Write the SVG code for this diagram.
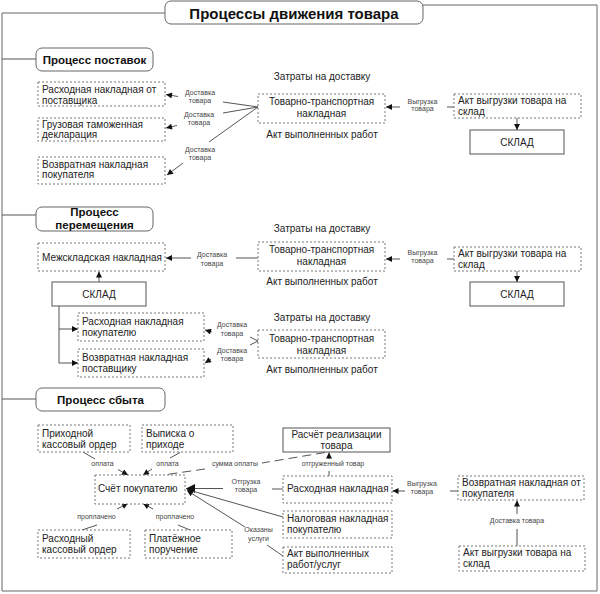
<svg xmlns="http://www.w3.org/2000/svg" width="600" height="594" viewBox="0 0 600 594">
<defs>
<marker id="ah" viewBox="0 0 10 10" refX="10" refY="5" markerWidth="8" markerHeight="6" markerUnits="userSpaceOnUse" orient="auto"><path d="M0,0 L10,5 L0,10 z" fill="#111"/></marker>
<marker id="ahb" viewBox="0 0 10 10" refX="10" refY="5" markerWidth="11" markerHeight="9" markerUnits="userSpaceOnUse" orient="auto"><path d="M0,0 L10,5 L0,10 z" fill="#111"/></marker>
<style>
text{font-family:"Liberation Sans",Arial,sans-serif;fill:#222}
.t{font-size:10px}
.tc{font-size:10px;text-anchor:middle}
.s{font-size:7px;text-anchor:middle;fill:#444}
.h{font-size:11.5px;font-weight:bold;text-anchor:middle;fill:#111}
.ttl{font-size:15px;font-weight:bold;text-anchor:middle;fill:#111}
.frame{fill:none;stroke:#666;stroke-width:1}
.rb{fill:#fff;stroke:#666;stroke-width:1}
.db{fill:#fff;stroke:#777;stroke-width:1;stroke-dasharray:2,2}
.sb{fill:#fff;stroke:#555;stroke-width:1}
.c{fill:none;stroke:#555;stroke-width:1}
.ca{fill:none;stroke:#555;stroke-width:1;marker-end:url(#ah)}
.cd{fill:none;stroke:#555;stroke-width:1;stroke-dasharray:9,5}
</style>
</defs>

<g id="frame">
<path class="frame" d="M2,591 V13 H165 M423,5 H597 V591 H2"/>
</g>

<g id="connectors">
<path class="c" d="M2,59 H36 M2,215 H36 M2,399 H36"/>
<!-- section 1 -->
<path class="c" d="M258,107 L223,102 M258,107 L223,113 M258,107 L209,142"/>
<path class="ca" d="M178,96.5 L166,94.5"/>
<path class="ca" d="M177,125.5 L166,128"/>
<path class="ca" d="M183,163 L167,175"/>
<path class="c" d="M447,107 H454"/>
<path class="ca" d="M400,107 H386"/>
<path class="ca" d="M517,118 V130"/>
<!-- section 2 -->
<path class="c" d="M236,258 H258"/>
<path class="ca" d="M191,258 H166"/>
<path class="c" d="M447,259 H454"/>
<path class="ca" d="M400,259 H386"/>
<path class="ca" d="M517,271 V282"/>
<path class="ca" d="M99,282 V271.5"/>
<path class="c" d="M59,306 V363"/>
<path class="ca" d="M59,329 H78"/>
<path class="ca" d="M59,363 H78"/>
<path class="c" d="M258,341 L250,337 M258,341 L250,345"/>
<path class="ca" d="M212,332 L205,330"/>
<path class="ca" d="M211,359 L205,363"/>
<!-- section 3 -->
<path class="c" d="M83,452 L95,459"/>
<path class="ca" d="M118,469.5 L128,475"/>
<path class="c" d="M180,452.5 L170,458"/>
<path class="ca" d="M152,469 L143,475"/>
<path class="cd" d="M325,452.5 L262,463 M205,469 L163,475"/>
<path class="c" d="M329,476 V471"/>
<path class="ca" d="M329,459 V452.5"/>
<path class="c" d="M283,489 H272"/>
<path class="c" style="marker-end:url(#ahb)" d="M223,488.5 H186"/>
<path class="ca" d="M283,517 L187,489.5"/>
<path class="c" d="M283,556 L267,545"/>
<path class="ca" d="M245,527 L187,490.5"/>
<path class="c" d="M82,530 L97,525"/>
<path class="ca" d="M117,509 L128,503.5"/>
<path class="c" d="M190,530 L178,525"/>
<path class="ca" d="M153,509 L143,503.5"/>
<path class="c" d="M450,491 H458"/>
<path class="ca" d="M405,491 H392.5"/>
<path class="c" d="M517,529 V546"/>
<path class="ca" d="M517,514 V500.5"/>
</g>

<g id="labels">
<text class="s" x="200" y="95">Доставка</text><text class="s" x="200" y="102.5">товара</text>
<text class="s" x="199" y="116.5">Доставка</text><text class="s" x="199" y="125">товара</text>
<text class="s" x="200" y="151.5">Доставка</text><text class="s" x="200" y="159.5">товара</text>
<text class="s" x="422.5" y="103.5">Выгрузка</text><text class="s" x="422.5" y="111">товара</text>
<text class="s" x="212" y="257">Доставка</text><text class="s" x="212" y="266">товара</text>
<text class="s" x="422.5" y="255">Выгрузка</text><text class="s" x="422.5" y="262.5">товара</text>
<text class="s" x="232" y="327">Доставка</text><text class="s" x="232" y="335.5">товара</text>
<text class="s" x="232" y="352.5">Доставка</text><text class="s" x="232" y="361">товара</text>
<text class="s" x="102.5" y="466">оплата</text>
<text class="s" x="167.5" y="466">оплата</text>
<text class="s" x="235" y="466">сумма оплаты</text>
<text class="s" x="333" y="466">отгруженный товар</text>
<text class="s" x="246" y="483.5">Отгрузка</text><text class="s" x="246" y="492">товара</text>
<text class="s" x="96.5" y="518.5">проплачено</text>
<text class="s" x="175" y="518.5">проплачено</text>
<text class="s" x="258.5" y="532">Оказаны</text><text class="s" x="258.5" y="540.5">услуги</text>
<text class="s" x="422" y="485.5">Выгрузка</text><text class="s" x="422" y="493.5">товара</text>
<text class="s" x="517" y="522.5">Доставка товара</text>
<text class="tc" x="322" y="80">Затраты на доставку</text>
<text class="tc" x="322" y="138">Акт выполненных работ</text>
<text class="tc" x="322" y="232">Затраты на доставку</text>
<text class="tc" x="322" y="285">Акт выполненных работ</text>
<text class="tc" x="322" y="321">Затраты на доставку</text>
<text class="tc" x="322" y="373">Акт выполненных работ</text>
</g>

<g id="title"><rect class="rb" x="165" y="1" width="258" height="23" rx="6"/><text class="ttl" x="294" y="19">Процессы движения товара</text></g>

<g id="sec-supply"><rect class="rb" x="36" y="48" width="117" height="23" rx="6"/><text class="h" x="94.5" y="64">Процесс поставок</text></g>
<g id="sup-rn"><rect class="db" x="38" y="82" width="127" height="24"/><text class="t" x="42" y="93">Расходная накладная от</text><text class="t" x="42" y="103.5">поставщика</text></g>
<g id="sup-gtd"><rect class="db" x="38" y="118" width="127" height="23"/><text class="t" x="42" y="127.5">Грузовая таможенная</text><text class="t" x="42" y="138">декларация</text></g>
<g id="sup-vn"><rect class="db" x="38" y="157" width="127" height="27"/><text class="t" x="42" y="167.5">Возвратная накладная</text><text class="t" x="42" y="178">покупателя</text></g>
<g id="sup-ttn"><rect class="db" x="258" y="94" width="127" height="29"/><text class="tc" x="321.5" y="105">Товарно-транспортная</text><text class="tc" x="321.5" y="117">накладная</text></g>
<g id="sup-akt"><rect class="db" x="454" y="94" width="127" height="24"/><text class="t" x="458" y="103.5">Акт выгрузки товара на</text><text class="t" x="458" y="115">склад</text></g>
<g id="sup-sklad"><rect class="sb" x="470" y="130" width="94" height="24"/><text class="tc" x="517" y="145.5">СКЛАД</text></g>

<g id="sec-move"><rect class="rb" x="36" y="207" width="117" height="24" rx="6"/><text class="h" x="94.5" y="216">Процесс</text><text class="h" x="94.5" y="229">перемещения</text></g>
<g id="mov-msn"><rect class="db" x="38" y="243" width="127" height="28"/><text class="t" x="42" y="260.5">Межскладская накладная</text></g>
<g id="mov-ttn1"><rect class="db" x="258" y="242" width="127" height="29"/><text class="tc" x="321.5" y="253">Товарно-транспортная</text><text class="tc" x="321.5" y="265">накладная</text></g>
<g id="mov-akt"><rect class="db" x="454" y="247" width="127" height="24"/><text class="t" x="458" y="256.5">Акт выгрузки товара на</text><text class="t" x="458" y="268">склад</text></g>
<g id="mov-sklad2"><rect class="sb" x="470" y="282" width="94" height="24"/><text class="tc" x="517" y="298">СКЛАД</text></g>
<g id="mov-sklad1"><rect class="sb" x="52" y="282" width="94" height="24"/><text class="tc" x="99" y="298">СКЛАД</text></g>
<g id="mov-rnp"><rect class="db" x="78" y="313" width="126" height="28"/><text class="t" x="82" y="325">Расходная накладная</text><text class="t" x="82" y="335.5">покупателю</text></g>
<g id="mov-vnp"><rect class="db" x="78" y="349" width="126" height="28"/><text class="t" x="82" y="361">Возвратная накладная</text><text class="t" x="82" y="371.5">поставщику</text></g>
<g id="mov-ttn2"><rect class="db" x="258" y="330" width="127" height="28"/><text class="tc" x="321.5" y="342">Товарно-транспортная</text><text class="tc" x="321.5" y="354">накладная</text></g>

<g id="sec-sales"><rect class="rb" x="36" y="388" width="129" height="23" rx="6"/><text class="h" x="100.5" y="404">Процесс сбыта</text></g>
<g id="sal-pko"><rect class="db" x="38" y="425" width="92" height="27"/><text class="t" x="42" y="437">Приходной</text><text class="t" x="42" y="448">кассовый ордер</text></g>
<g id="sal-vyp"><rect class="db" x="142" y="425" width="91" height="27"/><text class="t" x="146" y="437">Выписка о</text><text class="t" x="146" y="448">приходе</text></g>
<g id="sal-schet"><rect class="db" x="95" y="475" width="90" height="29"/><text class="t" x="98" y="492">Счёт покупателю</text></g>
<g id="sal-rko"><rect class="db" x="38" y="530" width="92" height="28"/><text class="t" x="42" y="542">Расходный</text><text class="t" x="42" y="553">кассовый ордер</text></g>
<g id="sal-pp"><rect class="db" x="145" y="530" width="87" height="28"/><text class="t" x="149" y="542">Платёжное</text><text class="t" x="149" y="553">поручение</text></g>
<g id="sal-raschet"><rect class="sb" x="283" y="428" width="107" height="24"/><text class="tc" x="336.5" y="438">Расчёт реализации</text><text class="tc" x="336.5" y="449">товара</text></g>
<g id="sal-rn"><rect class="db" x="283" y="476" width="109" height="27"/><text class="t" x="287" y="492">Расходная накладная</text></g>
<g id="sal-nn"><rect class="db" x="283" y="511" width="109" height="27"/><text class="t" x="287" y="522">Налоговая накладная</text><text class="t" x="287" y="533">покупателю</text></g>
<g id="sal-akt"><rect class="db" x="283" y="547" width="109" height="26"/><text class="t" x="287" y="557">Акт выполненных</text><text class="t" x="287" y="567.5">работ/услуг</text></g>
<g id="sal-vnp"><rect class="db" x="458" y="476" width="126" height="24"/><text class="t" x="462" y="485.5">Возвратная накладная от</text><text class="t" x="462" y="496.5">покупателя</text></g>
<g id="sal-akt2"><rect class="db" x="459" y="546" width="126" height="25"/><text class="t" x="463" y="556">Акт выгрузки товара на</text><text class="t" x="463" y="567">склад</text></g>
</svg>
